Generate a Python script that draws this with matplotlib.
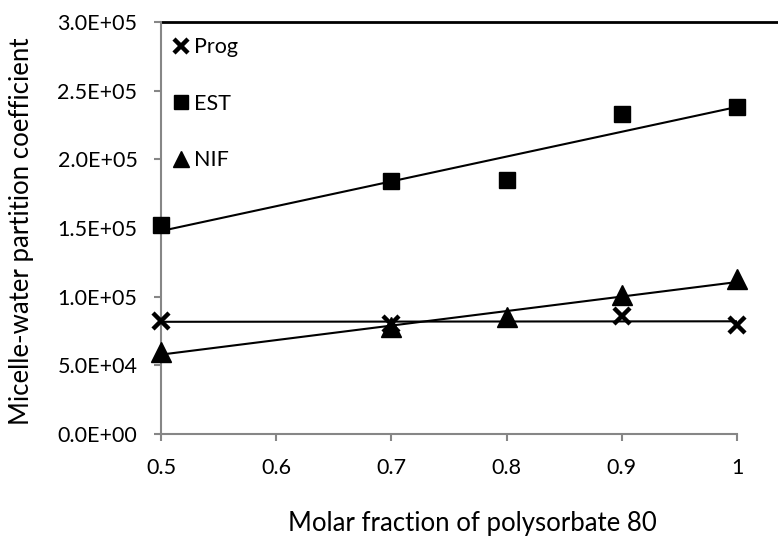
import matplotlib
matplotlib.use("Agg")
import matplotlib.pyplot as plt
import numpy as np
from matplotlib.ticker import FuncFormatter

plt.rcParams['font.family'] = ['Lato', 'DejaVu Sans']

# data
prog_x = [0.5, 0.7, 0.9, 1.0]
prog_y = [8.2e4, 8.0e4, 8.6e4, 7.96e4]
est_x = [0.5, 0.7, 0.8, 0.9, 1.0]
est_y = [1.52e5, 1.84e5, 1.85e5, 2.33e5, 2.38e5]
nif_x = [0.5, 0.7, 0.8, 0.9, 1.0]
nif_y = [6.0e4, 7.8e4, 8.5e4, 1.01e5, 1.13e5]

x_ticks = [0.5, 0.6, 0.7, 0.8, 0.9, 1.0]
y_ticks = [0, 5e4, 1e5, 1.5e5, 2e5, 2.5e5, 3e5]

fig = plt.figure(figsize=(7.78, 5.40), dpi=100)
ax = fig.add_axes([161/778, 1-434/540, (737-161)/778, (434-22)/540])

# linear trend lines
for xs, ys in [(prog_x, prog_y), (est_x, est_y), (nif_x, nif_y)]:
    k, b = np.polyfit(xs, ys, 1)
    xx = np.array([0.5, 1.0])
    ax.plot(xx, k*xx + b, color='black', lw=1.5, zorder=2)

ax.plot(prog_x, prog_y, 'x', color='black', ms=12, mew=3.2, label='Prog', zorder=3, clip_on=False)
ax.plot(est_x, est_y, 's', color='black', ms=12, label='EST', zorder=3, clip_on=False)
ax.plot(nif_x, nif_y, '^', color='black', ms=14, label='NIF', zorder=4, clip_on=False)

ax.set_xlim(0.5, 1.0)
ax.set_ylim(0, 3e5)
ax.set_xticks(x_ticks)
ax.set_yticks(y_ticks)
ax.xaxis.set_major_formatter(FuncFormatter(lambda v, p: '%g' % v))
ax.yaxis.set_major_formatter(FuncFormatter(lambda v, p: '%.1E' % v))

for s in ['right', 'top']:
    ax.spines[s].set_visible(False)
for s in ['left', 'bottom']:
    ax.spines[s].set_color('#868686')
    ax.spines[s].set_linewidth(1.5)
ax.tick_params(axis='both', direction='out', length=5, width=1.5, color='#868686',
               labelsize=15.5, colors='#868686', labelcolor='black')
ax.tick_params(axis='x', pad=12.5)
ax.tick_params(axis='y', pad=12)

# top border line running to the right edge
ax.axhline(3e5, xmin=0, xmax=(778-161)/(737-161), color='black', lw=2, clip_on=False)

ax.set_xlabel('Molar fraction of polysorbate 80', fontsize=18.5)
ax.xaxis.set_label_coords((472-161)/576, (434-524)/412)
ax.xaxis.label.set_va('center')
ax.set_ylabel('Micelle-water partition coefficient', fontsize=18.5)
ax.yaxis.set_label_coords((22-161)/576, (434-231)/412)
ax.yaxis.label.set_va('center')

ax.legend(loc='upper left', frameon=False, fontsize=15.5, markerscale=0.8,
          handlelength=0.7, handletextpad=0.25, labelspacing=1.7,
          bbox_to_anchor=(-0.012, 1.01))

fig.savefig('out.png', dpi=100)
